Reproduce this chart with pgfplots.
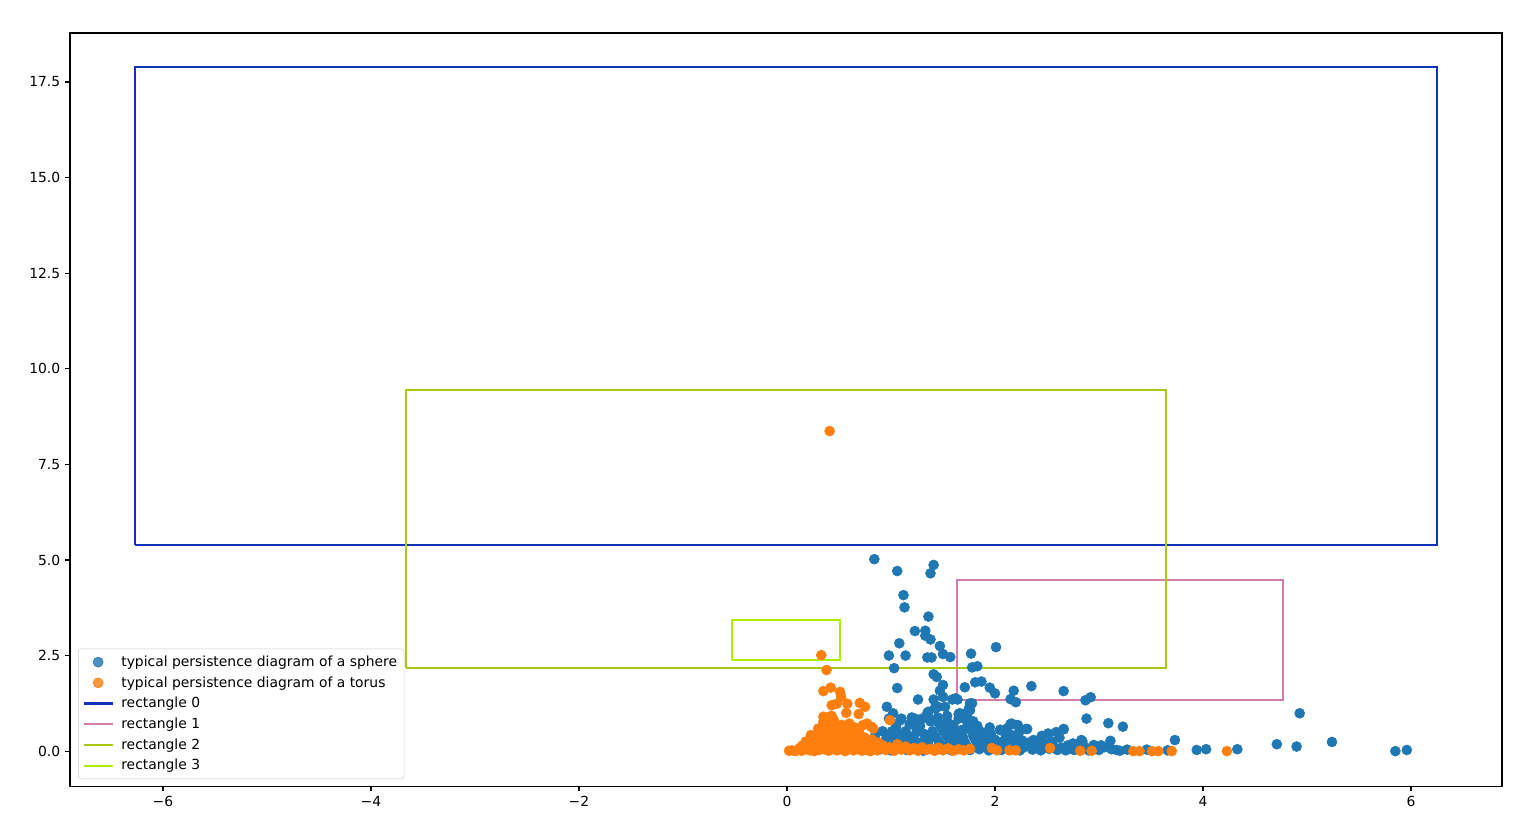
\documentclass[border=0pt]{standalone}
\usepackage{fontspec}
\setmainfont{DejaVu Sans}
\usepackage{pgfplots}
\pgfplotsset{compat=1.18}
\usetikzlibrary{calc}

\definecolor{sphere}{HTML}{1F77B4}
\definecolor{torus}{HTML}{FF7F0E}
\definecolor{rectA}{HTML}{1034B8}
\definecolor{rectB}{HTML}{D67BAE}
\definecolor{rectC}{HTML}{A8C814}
\definecolor{rectD}{HTML}{A8F000}

\pgfplotsset{
  linelegend/.style={legend image code/.code={\draw[##1] (0cm,0cm) -- (0.74cm,0cm); \path (0.86cm,0cm);}},
  dotlegend/.style={legend image code/.code={\draw[##1] plot coordinates {(0.37cm,0cm)}; \path (0cm,0cm) (0.86cm,0cm);}},
}

\begin{document}
\begin{tikzpicture}
\begin{axis}[
    scale only axis,
    width=1031pt, height=542.2pt,
    xmin=-6.894, xmax=6.875,
    ymin=-0.916, ymax=18.78,
    xtick={-6,-4,-2,0,2,4,6},
    xticklabels={−6,−4,−2,0,2,4,6},
    ytick={0,2.5,5,7.5,10,12.5,15,17.5},
    yticklabel style={/pgf/number format/fixed, /pgf/number format/fixed zerofill,
                      /pgf/number format/precision=1},
    /pgf/number format/assume math mode=true,
    tick label style={font=\fontsize{10}{12}\selectfont},
    tick align=outside,
    major tick length=3.5pt,
    xtick pos=lower, ytick pos=left,
    axis line style={line width=0.8pt},
    every tick/.style={black, line width=0.8pt},
    legend cell align=left,
    legend style={at={(0.0056,0.0093)}, anchor=south west, draw=black!20,
                  rounded corners=2pt, fill=white, fill opacity=0.8, text opacity=1,
                  font=\fontsize{10}{12}\selectfont, row sep=1.8pt, inner sep=3pt},
]

% sphere diagram
\addplot[only marks, mark=*, mark size=3.6pt, color=sphere, dotlegend] coordinates {
(0.84,5.02)(1.06,4.71)(1.41,4.87)(1.38,4.65)(1.12,4.08)(1.13,3.76)(1.36,3.52)
(1.23,3.14)(1.33,3.15)(1.33,3.02)(1.38,2.92)(1.08,2.82)(1.47,2.75)(0.98,2.50)
(1.14,2.50)(1.35,2.45)(1.39,2.45)(1.50,2.54)(1.57,2.46)(1.77,2.55)(2.01,2.72)
(1.03,2.17)(1.78,2.19)(1.83,2.22)(1.06,1.65)(1.41,2.01)(1.44,1.94)(1.50,1.73)
(1.47,1.58)(1.71,1.67)(1.81,1.80)(1.87,1.82)(1.95,1.66)(2.00,1.51)(2.18,1.58)
(2.35,1.70)(2.66,1.57)(2.15,1.36)(2.20,1.28)(1.26,1.35)(1.41,1.35)(1.50,1.42)
(1.59,1.35)(1.64,1.35)(1.76,1.25)(0.96,1.16)(1.35,1.00)(1.43,1.12)(1.75,1.12)
(1.65,0.97)(1.69,0.97)(1.02,0.99)(1.54,0.92)(1.73,0.93)(1.23,0.85)(1.09,0.81)
(2.15,0.71)(2.21,0.68)(2.31,0.58)(2.51,0.45)(2.66,0.58)(2.05,0.56)(2.23,0.48)
(2.87,1.33)(2.92,1.41)(2.88,0.85)(3.09,0.73)(3.23,0.64)(4.93,0.99)(2.66,0.57)
(2.84,0.26)(3.11,0.27)(3.73,0.29)(4.71,0.18)(4.90,0.12)(5.24,0.24)(5.85,0.00)
(5.96,0.03)(3.94,0.03)(4.03,0.05)(4.33,0.05)
(0.92,0.52)(1.01,0.52)(1.14,0.52)(1.27,0.52)(1.40,0.52)(1.50,0.52)(0.85,0.42)
(0.98,0.85)(1.10,0.85)(1.20,0.88)(1.30,0.85)(1.38,0.82)(1.45,0.88)(1.36,1.03)
(1.45,1.16)(1.62,1.38)(1.78,1.25)(1.76,1.07)(1.66,0.99)(1.65,0.85)(1.42,1.12)
(1.52,1.16)(1.38,0.78)(1.44,0.78)(1.54,0.78)(1.73,0.78)(1.79,0.78)(2.16,0.72)
(2.22,0.68)(2.30,0.58)(2.05,0.55)(2.16,0.42)(2.22,0.37)(2.51,0.46)(2.59,0.50)
(2.37,0.29)(2.43,0.29)(1.87,0.50)(1.90,0.37)(2.83,0.29)(2.95,0.16)
(1.05,0.65)(1.18,0.70)(1.28,0.66)(1.60,0.68)(1.68,0.55)(1.95,0.62)(2.10,0.45)(1.83,0.66)
(0.95,0.30)(1.00,0.40)(1.06,0.33)(1.10,0.45)(1.17,0.38)(1.20,0.25)(1.24,0.62)
(1.32,0.45)(1.36,0.28)(1.43,0.36)(1.47,0.70)(1.53,0.42)(1.57,0.58)(1.60,0.30)
(1.64,0.45)(1.69,0.38)(1.72,0.18)(1.77,0.55)(1.81,0.30)(1.85,0.45)(1.92,0.25)
(1.96,0.45)(2.00,0.30)(2.07,0.25)(2.12,0.60)(2.26,0.28)(2.34,0.12)(2.45,0.40)
(2.55,0.25)(2.62,0.35)(2.70,0.15)(2.75,0.20)(2.86,0.12)(3.02,0.15)(3.12,0.05)
(1.15,0.12)(1.30,0.18)(1.47,0.15)(1.58,0.22)(1.98,0.15)(2.26,0.16)(0.88,0.15)
(0.90,0.05)(0.95,0.12)(1.00,0.02)(1.04,0.20)(1.08,0.08)(1.12,0.30)(1.15,0.03)
(1.18,0.15)(1.22,0.40)(1.25,0.06)(1.28,0.22)(1.31,0.01)(1.34,0.33)(1.37,0.10)
(1.40,0.45)(1.43,0.04)(1.46,0.25)(1.49,0.60)(1.52,0.12)(1.55,0.35)(1.58,0.02)
(1.61,0.50)(1.64,0.18)(1.67,0.07)(1.70,0.28)(1.73,0.62)(1.76,0.03)(1.79,0.40)
(1.82,0.15)(1.85,0.05)(1.88,0.26)(1.91,0.10)(1.94,0.02)(1.97,0.33)(2.00,0.08)
(2.03,0.20)(2.06,0.03)(2.10,0.14)(2.13,0.30)(2.17,0.05)(2.20,0.18)(2.24,0.02)
(2.28,0.10)(2.32,0.22)(2.36,0.04)(2.40,0.12)(2.44,0.02)(2.48,0.20)(2.52,0.06)
(2.56,0.14)(2.60,0.03)(2.64,0.09)(2.68,0.02)(2.72,0.08)(2.76,0.03)(2.80,0.10)
(2.90,0.02)(2.95,0.06)(3.00,0.03)(3.05,0.10)(3.17,0.03)(3.27,0.04)(3.46,0.04)
(3.66,0.02)(3.20,0.01)
};
\addlegendentry{typical persistence diagram of a sphere}

% torus diagram
\addplot[only marks, mark=*, mark size=3.6pt, color=torus, dotlegend] coordinates {
(0.41,8.37)
(0.33,2.51)(0.38,2.12)(0.35,1.57)(0.42,1.66)(0.51,1.55)(0.52,1.42)(0.43,1.20)
(0.48,1.24)(0.58,1.24)(0.70,1.26)(0.75,1.16)(0.57,1.00)(0.69,0.97)(0.43,0.92)
(0.35,0.90)(0.99,0.81)(0.77,0.72)(0.83,0.59)(0.45,0.81)(0.30,0.59)(0.53,0.68)
(0.73,0.68)(0.81,0.64)(0.41,0.90)(0.35,0.77)
(0.35,0.65)(0.43,0.70)(0.52,0.68)(0.60,0.72)(0.38,0.45)(0.47,0.52)(0.55,0.55)
(0.63,0.50)(0.70,0.45)(0.30,0.35)(0.40,0.30)(0.50,0.38)(0.58,0.32)(0.66,0.28)
(0.75,0.35)(0.82,0.30)(0.88,0.22)(0.25,0.20)(0.33,0.15)(0.45,0.18)(0.53,0.22)
(0.62,0.15)(0.72,0.18)(0.80,0.12)(0.90,0.08)(0.20,0.08)(0.28,0.10)(0.36,0.05)
(0.44,0.08)(0.52,0.05)(0.60,0.10)(0.68,0.06)(0.76,0.04)(0.84,0.05)(0.95,0.03)
(0.27,0.30)(0.36,0.42)(0.44,0.35)(0.61,0.40)(0.68,0.58)(0.57,0.62)(0.49,0.45)
(0.23,0.42)(0.31,0.50)(0.40,0.55)(0.48,0.60)(0.56,0.45)(0.64,0.35)(0.72,0.25)
(0.78,0.22)(0.86,0.12)(0.18,0.25)(0.26,0.12)(0.34,0.25)(0.42,0.22)(0.50,0.28)
(0.58,0.20)(0.66,0.12)(0.74,0.10)(0.15,0.15)(0.12,0.08)(0.38,0.12)(0.55,0.12)
(0.63,0.25)(0.70,0.32)(0.46,0.40)(0.65,0.62)(0.60,0.55)
(0.02,0.01)(0.05,0.02)(0.08,0.00)(0.11,0.03)(0.14,0.01)(0.17,0.05)(0.22,0.02)
(0.26,0.00)(0.31,0.03)(0.40,0.01)(0.48,0.02)(0.56,0.00)(0.64,0.02)(0.72,0.01)
(0.80,0.00)(0.87,0.02)(0.92,0.15)(0.98,0.10)(1.03,0.01)(1.06,0.18)(1.10,0.04)
(1.14,0.12)(1.18,0.02)(1.22,0.08)(1.26,0.01)(1.30,0.10)(1.34,0.03)(1.38,0.06)
(1.42,0.01)(1.46,0.09)(1.50,0.02)(1.55,0.07)(1.60,0.01)(1.65,0.05)(1.70,0.02)
(1.76,0.06)(1.97,0.08)(2.02,0.02)(2.14,0.02)(2.20,0.02)(2.53,0.08)(2.82,0.01)
(2.93,0.01)(3.33,0.00)(3.39,0.00)(3.51,0.00)(3.57,0.00)(3.70,0.00)(4.23,0.00)
};
\addlegendentry{typical persistence diagram of a torus}

% rectangles
\addplot[color=rectA, line width=1.5pt, no marks, linelegend] coordinates {
(-6.27,5.39)(6.25,5.39)(6.25,17.89)(-6.27,17.89)(-6.27,5.39)};
\addlegendentry{rectangle 0}
\addplot[color=rectB, line width=1.5pt, no marks, linelegend] coordinates {
(1.635,1.33)(4.77,1.33)(4.77,4.47)(1.635,4.47)(1.635,1.33)};
\addlegendentry{rectangle 1}
\addplot[color=rectC, line width=1.5pt, no marks, linelegend] coordinates {
(-3.66,2.17)(3.64,2.17)(3.64,9.44)(-3.66,9.44)(-3.66,2.17)};
\addlegendentry{rectangle 2}
\addplot[color=rectD, line width=1.5pt, no marks, linelegend] coordinates {
(-0.53,2.38)(0.51,2.38)(0.51,3.43)(-0.53,3.43)(-0.53,2.38)};
\addlegendentry{rectangle 3}

\end{axis}
\path ($(current axis.south west)+(-50.4pt,-38.2pt)$) rectangle ($(current axis.north east)+(24.5pt,23.8pt)$);
\end{tikzpicture}
\end{document}
